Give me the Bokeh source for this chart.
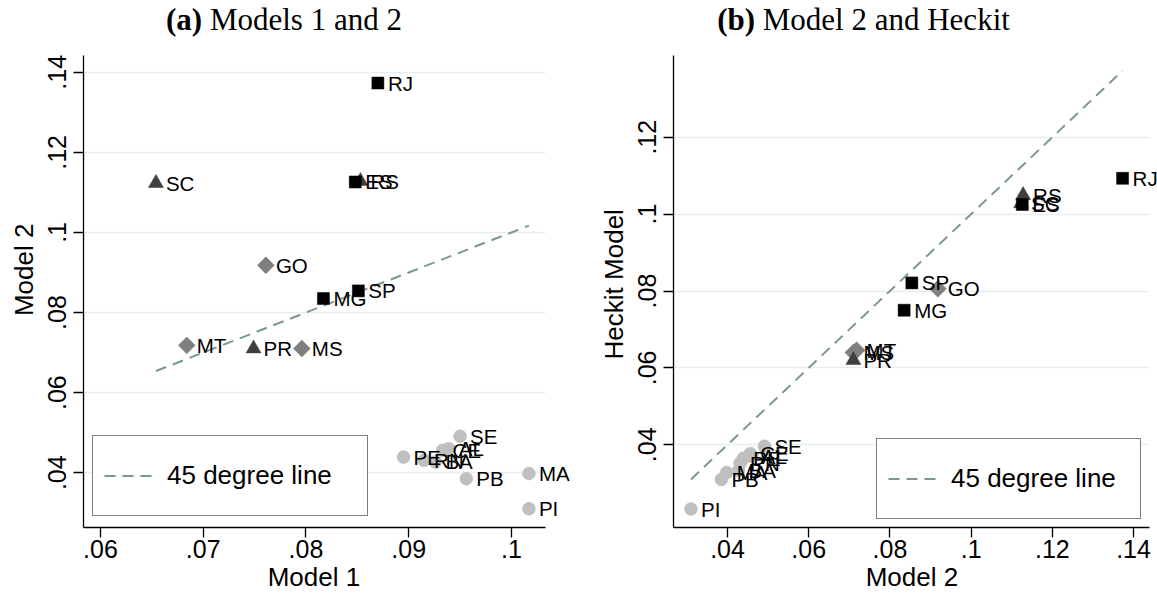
import numpy as np
from bokeh.plotting import figure
from bokeh.models import (FixedTicker, Range1d, ColumnDataSource, LabelSet, Div,
                          CustomJSTickFormatter)
from bokeh.core.properties import value
from bokeh.layouts import row, column
from bokeh.embed import file_html
from bokeh.resources import INLINE

# ---------------- data ----------------
states = ["RJ", "ES", "RS", "SC", "GO", "SP", "MG", "MT", "PR", "MS",
          "SE", "PE", "RN", "BA", "CE", "AL", "PB", "MA", "PI"]
group = ["SE", "SE", "S", "S", "CO", "SE", "SE", "CO", "S", "CO",
         "NE", "NE", "NE", "NE", "NE", "NE", "NE", "NE", "NE"]
model1 = [0.0870, 0.0848, 0.0853, 0.0654, 0.0761, 0.0851, 0.0817, 0.0684, 0.0749, 0.0796,
          0.0950, 0.0895, 0.0915, 0.0926, 0.0933, 0.0939, 0.0956, 0.1017, 0.1017]
model2 = [0.1373, 0.1126, 0.1128, 0.1123, 0.0918, 0.0854, 0.0835, 0.0718, 0.0710, 0.0710,
          0.0491, 0.0439, 0.0431, 0.0427, 0.0456, 0.0460, 0.0385, 0.0398, 0.0310]
heckit = [0.1093, 0.1025, 0.1049, 0.1028, 0.0806, 0.0821, 0.0750, 0.0646, 0.0620, 0.0640,
          0.0396, 0.0365, 0.0352, 0.0333, 0.0377, 0.0370, 0.0310, 0.0328, 0.0233]

xticks_a = [0.06, 0.07, 0.08, 0.09, 0.10]
yticks_a = [0.04, 0.06, 0.08, 0.10, 0.12, 0.14]
xticks_b = [0.04, 0.06, 0.08, 0.10, 0.12, 0.14]
yticks_b = [0.04, 0.06, 0.08, 0.10, 0.12]

legend_text = "45 degree line"

# ---------------- style ----------------
STYLE = {
    "NE": dict(marker="circle", color="#bfbfbf", size=13, angle=0.0),
    "CO": dict(marker="square", color="#7f7f7f", size=12, angle=np.pi / 4),
    "S": dict(marker="triangle", color="#3f3f3f", size=15, angle=0.0),
    "SE": dict(marker="square", color="#000000", size=12, angle=0.0),
}
LINE_COLOR = "#7a9a8c"
GRID_COLOR = "#e6eef0"
SANS = "Liberation Sans"
SERIF = "Liberation Serif"
NB = "\u00a0"

fmt = CustomJSTickFormatter(code="""
    return tick.toFixed(2).replace(/^0/, '').replace(/0$/, '');
""")


def make_panel(xs, ys, xr, xbounds, yr, ybounds, xt, yt, xlabel, ylabel, width, left,
               right, legend_loc, legend_label_w):
    p = figure(width=width, height=556, x_range=Range1d(*xr), y_range=Range1d(*yr),
               output_backend="svg", toolbar_location=None,
               min_border_left=left, min_border_right=right,
               min_border_top=15, min_border_bottom=69)
    p.outline_line_color = None
    p.background_fill_color = "white"
    p.border_fill_color = "white"

    # 45 degree line between data extremes
    lo, hi = min(xs), max(xs)
    p.line(x=[lo, hi], y=[lo, hi], line_color=LINE_COLOR, line_width=2,
           line_dash="11 7", legend_label=legend_text)

    for g in ["NE", "CO", "S", "SE"]:
        idx = [i for i, gg in enumerate(group) if gg == g]
        src = ColumnDataSource(dict(x=[xs[i] for i in idx], y=[ys[i] for i in idx]))
        st = STYLE[g]
        p.scatter(x="x", y="y", source=src, marker=st["marker"], size=st["size"],
                  angle=st["angle"], fill_color=st["color"], line_color=st["color"],
                  line_width=0.5)

    lab_src = ColumnDataSource(dict(x=xs, y=ys, t=states))
    p.add_layout(LabelSet(x="x", y="y", text="t", source=lab_src, x_offset=10, y_offset=0,
                          text_font=value(SANS), text_font_size="20.5px", text_color="black",
                          text_baseline="middle", text_align="left"))

    for ax, ticks, lab, bnd in ((p.xaxis, xt, xlabel, xbounds), (p.yaxis, yt, ylabel, ybounds)):
        ax.ticker = FixedTicker(ticks=ticks)
        ax.formatter = fmt
        ax.bounds = bnd
        ax.axis_label = lab
        ax.axis_label_text_font = SANS
        ax.axis_label_text_font_size = "26px"
        ax.axis_label_text_font_style = "normal"
        ax.axis_label_text_color = "black"
        ax.major_label_text_font = SANS
        ax.major_label_text_font_size = "25px"
        ax.major_label_text_color = "black"
        ax.axis_line_color = "black"
        ax.axis_line_width = 1.3
        ax.major_tick_line_color = "black"
        ax.major_tick_line_width = 1.3
        ax.major_tick_out = 10
        ax.major_tick_in = 0
        ax.minor_tick_line_color = None
    p.xaxis.major_label_standoff = 2
    p.xaxis.axis_label_standoff = 1
    p.yaxis.major_label_standoff = 7
    p.yaxis.axis_label_standoff = 7
    p.yaxis.major_label_orientation = "vertical"

    p.xgrid.visible = False
    p.ygrid.grid_line_color = GRID_COLOR
    p.ygrid.grid_line_width = 1.5
    try:
        p.ygrid[0].cross_bounds = xbounds
    except Exception:
        pass

    lg = p.legend[0]
    lg.location = legend_loc
    lg.margin = 0
    lg.padding = 11
    lg.glyph_width = 49
    lg.glyph_height = 57
    lg.label_height = 57
    lg.label_width = legend_label_w
    lg.label_standoff = 14
    lg.border_line_color = "black"
    lg.border_line_width = 1
    lg.background_fill_color = "white"
    lg.background_fill_alpha = 1.0
    lg.label_text_font = SANS
    lg.label_text_font_size = "26px"
    lg.label_text_color = "black"
    return p


def make_title(bold, rest, width, pad_right):
    return Div(text=f"<b>{bold}</b>&nbsp;{rest}", width=width, height=40, margin=0,
               styles={"text-align": "center", "font-family": SERIF, "font-size": "31px",
                       "line-height": "40px", "color": "black", "width": f"{width}px",
                       "padding-right": f"{pad_right}px", "box-sizing": "border-box",
                       "white-space": "nowrap"})


# axis titles padded with no-break spaces so they sit where the reference has them
pa = make_panel(model1, model2, (0.05835, 0.10672), (0.05835, 0.10331),
                (0.02632, 0.14418), (0.02632, 0.14418),
                xticks_a, yticks_a, "Model 1" + NB * 5, NB * 6 + "Model 2", 580, 83, 0,
                (9, 11), 189)
pb = make_panel(model2, heckit, (0.0267, 0.1459), (0.0267, 0.1439),
                (0.01849, 0.14125), (0.01849, 0.14125),
                xticks_b, yticks_b, "Model 2" + NB, NB * 2 + "Heckit Model", 577, 93, 0,
                (203, 8), 178)

ta = make_title("(a)", "Models 1 and 2", 580, 12)
tb = make_title("(b)", "Model 2 and Heckit", 577, 10)

layout = row(column(ta, pa, spacing=0), column(tb, pb, spacing=0), spacing=0)
open("out.html", "w").write(file_html(layout, INLINE))
